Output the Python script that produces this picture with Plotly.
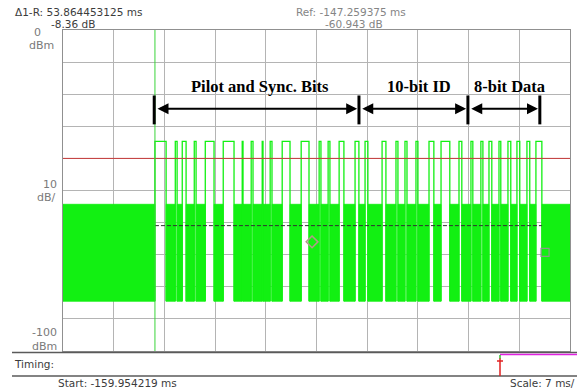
import plotly.graph_objects as go

# ---- sweep settings (zero span, time domain) ----
START_MS = -159.954219
SCALE_MS = 7.0            # ms per division
N_DIV = 10
STOP_MS = START_MS + SCALE_MS * N_DIV

# ---- trace levels (dBm) ----
carrier_level = -34.7
noise_top = -54.3
noise_floor = -84.5
threshold_level = -40.0
ref_marker_level = -60.943

# ---- burst timing (ms) ----
burst_start = -147.26
burst_end = -93.84

# carrier-off gaps inside the burst (ms)
off_start = [-145.72, -144.20, -142.96, -141.58, -139.10, -136.34, -135.10, -133.72,
             -132.34, -131.10, -128.61, -125.99, -124.34, -123.10, -121.17, -119.10,
             -117.86, -115.37, -113.71, -112.46, -110.95, -108.75, -106.55, -104.89,
             -103.37, -101.98, -100.75, -99.51, -98.13, -96.89, -95.51]
off_end = [-144.45, -143.49, -141.83, -140.31, -137.83, -135.21, -133.97, -132.45,
           -131.35, -129.69, -127.07, -124.59, -123.35, -121.83, -119.63, -118.25,
           -115.90, -113.98, -112.74, -111.22, -109.42, -107.76, -105.28, -103.63,
           -102.26, -101.14, -99.76, -98.52, -97.28, -95.90, -94.66]

# markers
ref_marker_ms = -147.259375
delta_ms = 53.864453125
delta_db = -8.36
marker2_ms = -125.57
marker2_level = -66.0

# frame sections (ms) and labels
section_edges = [-147.36, -119.09, -104.05, -94.12]
section_names = ["Pilot and Sync. Bits", "10-bit ID", "8-bit Data"]
section_label_x = [-132.7, -110.74, -98.30]

GREEN = "#12f012"

# ---------- build geometry ----------
noise_x, noise_y = [], []
def add_block(a, b):
    noise_x.extend([a, a, b, b, a, None])
    noise_y.extend([noise_floor, noise_top, noise_top, noise_floor, noise_floor, None])

add_block(START_MS, burst_start)
for a, b in zip(off_start, off_end):
    add_block(a, b)
add_block(burst_end, STOP_MS)

# carrier-on intervals are the complement of the gaps within the burst
on_edges = [burst_start] + [v for pair in zip(off_start, off_end) for v in pair] + [burst_end]
on_x, on_y = [], []
for i in range(0, len(on_edges), 2):
    a, b = on_edges[i], on_edges[i + 1]
    on_x.extend([a, a, b, b, None])
    on_y.extend([noise_floor, carrier_level, carrier_level, noise_floor, None])

fig = go.Figure()
fig.add_trace(go.Scatter(x=noise_x, y=noise_y, mode="lines", fill="toself",
                         fillcolor=GREEN, line=dict(width=0.8, color=GREEN),
                         hoverinfo="skip"))
fig.add_trace(go.Scatter(x=on_x, y=on_y, mode="lines",
                         line=dict(width=1.3, color=GREEN), hoverinfo="skip"))

# reference-marker level line
fig.add_trace(go.Scatter(x=[burst_start, burst_end], y=[ref_marker_level, ref_marker_level],
                         mode="lines", line=dict(color="#303030", width=1, dash="4px,2px"),
                         hoverinfo="skip"))

# threshold line
fig.add_trace(go.Scatter(x=[START_MS, STOP_MS], y=[threshold_level, threshold_level],
                         mode="lines", line=dict(color="#c83a3a", width=1), hoverinfo="skip"))

# marker symbols
fig.add_trace(go.Scatter(x=[marker2_ms], y=[marker2_level], mode="markers",
                         marker=dict(symbol="diamond-open", size=9, color="#b09a88",
                                     line=dict(width=1.5))))
fig.add_trace(go.Scatter(x=[ref_marker_ms + delta_ms], y=[ref_marker_level + delta_db],
                         mode="markers",
                         marker=dict(symbol="square-open", size=8, color="#8a9a8a",
                                     line=dict(width=1.2))))

# reference marker vertical line
fig.add_shape(type="line", xref="x", yref="paper", x0=ref_marker_ms, x1=ref_marker_ms,
              y0=0, y1=1, line=dict(color="#3ad43a", width=1))

# ---------- section annotations ----------
bar_top, bar_bot, arrow_y, text_y = -20.4, -29.4, -24.5, -17.45
for x in section_edges:
    fig.add_shape(type="line", xref="x", yref="y", x0=x, x1=x, y0=bar_bot, y1=bar_top,
                  line=dict(color="black", width=3))
for i in range(3):
    a, b = section_edges[i] + 0.25, section_edges[i + 1] - 0.25
    fig.add_annotation(x=b, y=arrow_y, ax=a, ay=arrow_y, xref="x", yref="y",
                       axref="x", ayref="y", text="", showarrow=True,
                       arrowhead=2, startarrowhead=2, arrowside="end+start",
                       arrowsize=1.1, startarrowsize=1.1, arrowwidth=2,
                       arrowcolor="black", standoff=0, startstandoff=0)
    fig.add_annotation(x=section_label_x[i], y=text_y, xref="x", yref="y",
                       text="<b>%s</b>" % section_names[i], showarrow=False,
                       font=dict(family="Liberation Serif, Times New Roman, serif",
                                 size=16.5, color="black"))

# ---------- layout ----------
W, H = 577, 388
L, R, T, B = 63, 7, 30, 37

def px(xp):
    return (xp - L) / (W - L - R)

def py(yp):
    return (H - B - yp) / (H - T - B)

fig.update_layout(
    width=W, height=H, margin=dict(l=L, r=R, t=T, b=B),
    plot_bgcolor="white", paper_bgcolor="white", showlegend=False,
    xaxis=dict(range=[START_MS, STOP_MS], tick0=START_MS, dtick=SCALE_MS,
               showticklabels=False, ticks="", showgrid=True, gridcolor="#b4b4b4",
               gridwidth=1, zeroline=False, showline=True, mirror=True,
               linecolor="#909090", linewidth=1),
    yaxis=dict(range=[-100, 0], dtick=10, showticklabels=False, ticks="",
               showgrid=True, gridcolor="#b4b4b4", gridwidth=1, zeroline=False,
               showline=True, mirror=True, linecolor="#909090", linewidth=1),
)

ui_font = "DejaVu Sans, Verdana, sans-serif"

def label(text, xp, yp, color, size=11, anchor="left"):
    fig.add_annotation(x=px(xp), y=py(yp), xref="paper", yref="paper", text=text,
                       showarrow=False, xanchor=anchor, yanchor="middle", borderpad=0,
                       font=dict(family=ui_font, size=size, color=color))

# marker readouts
label("Δ1-R: %s ms" % f"{delta_ms:.9f}", 14, 12, "#3c3c3c", 10.5)
label("%.2f dB" % delta_db, 49.5, 24, "#3c3c3c", 10.5)
label("Ref: %s ms" % f"{ref_marker_ms:.6f}", 295, 12, "#858585", 10.5)
label("%.3f dB" % ref_marker_level, 324, 24, "#858585", 10.5)

# amplitude scale labels
axis_grey = "#7a7a7a"
label("0", 37, 32, axis_grey, 11, "center")
label("dBm", 41, 45.5, axis_grey, 11, "center")
label("10", 50, 184, axis_grey, 11, "center")
label("dB/", 46, 197.5, axis_grey, 11, "center")
label("-100", 44, 332.5, axis_grey, 11, "center")
label("dBm", 44, 346, axis_grey, 11, "center")

# timing strip
for yline in (352.5, 376):
    fig.add_shape(type="line", xref="paper", yref="paper", x0=px(12), x1=px(580),
                  y0=py(yline), y1=py(yline), line=dict(color="#5a5a5a", width=1.5))
fig.add_shape(type="line", xref="paper", yref="paper", x0=px(500), x1=px(580),
              y0=py(354.5), y1=py(354.5), line=dict(color="#e020e0", width=1.5))
fig.add_shape(type="line", xref="paper", yref="paper", x0=px(500), x1=px(500),
              y0=py(358), y1=py(376), line=dict(color="#e02020", width=1.5))
fig.add_shape(type="line", xref="paper", yref="paper", x0=px(497), x1=px(503),
              y0=py(361), y1=py(361), line=dict(color="#e02020", width=1.5))
fig.add_shape(type="line", xref="paper", yref="paper", x0=px(500), x1=px(500),
              y0=py(355), y1=py(358.5), line=dict(color="#30c030", width=1.5))

label("Timing:", 13, 364, "#3c3c3c", 10.5)
label("Start: %s ms" % f"{START_MS:.6f}", 57, 382.5, "#3c3c3c", 10.5)
label("Scale: %g ms/" % SCALE_MS, 576, 382.5, "#3c3c3c", 10.5, "right")

fig.write_html("out.html")
